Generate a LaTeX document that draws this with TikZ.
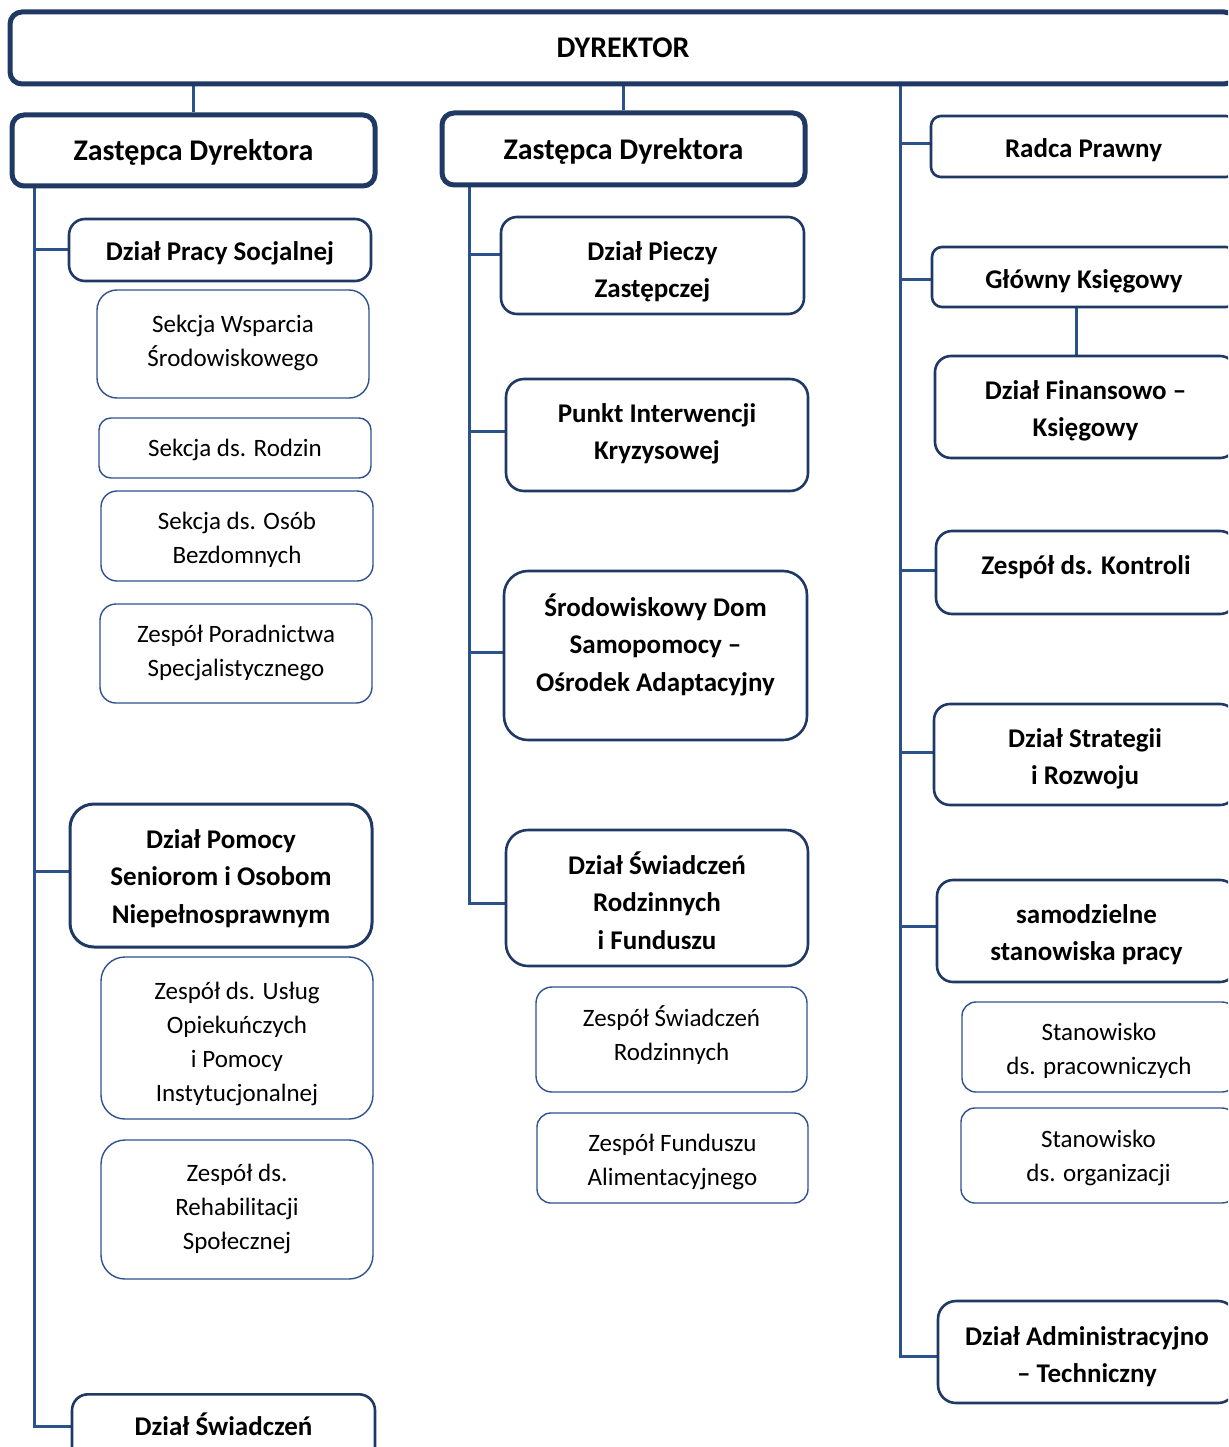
\documentclass[tikz,border=0pt]{standalone}
\usepackage{fontspec}
\setmainfont{Carlito}
\usetikzlibrary{backgrounds,calc}
\definecolor{navy}{RGB}{31,56,100}
\definecolor{conn}{RGB}{44,82,140}
\definecolor{lightb}{RGB}{47,82,143}
\newcommand\T[2]{\raisebox{-#1pt}[\height][\depth]{\begin{tabular}{@{}c@{}}#2\end{tabular}}}
\tikzset{
  base/.style={draw, fill=white, inner sep=0pt, text=black},
  thickbox/.style={base, draw=navy, line width=5pt, rounded corners=12pt,
    font=\bfseries\fontsize{30}{38}\selectfont},
  midbox/.style={base, draw=navy, line width=2.6pt, rounded corners=16pt,
    font=\bfseries\fontsize{27}{37.5}\selectfont},
  lightbox/.style={base, draw=lightb, line width=1.4pt, rounded corners=20pt,
    font=\fontsize{25}{34}\selectfont},
  link/.style={draw=conn, line width=3pt},
}
\begin{document}
\begin{tikzpicture}[x=1pt,y=-1pt]
\useasboundingbox (0,0) rectangle (1228,1447);
\clip (0,0) rectangle (1228,1447);
% top
\node[thickbox, minimum width=1226, minimum height=72] (dyr) at (623,48) {\T{1.5}{DYREKTOR}};
\node[thickbox, minimum width=363, minimum height=71] (z1) at (193.5,150.5) {\T{2}{Zastępca Dyrektora}};
\node[thickbox, minimum width=363, minimum height=72] (z2) at (623.5,149) {\T{2.5}{Zastępca Dyrektora}};
% left column
\node[midbox, minimum width=302, minimum height=62] (dps) at (220,250) {\T{2.5}{Dział Pracy Socjalnej}};
\node[lightbox, minimum width=272, minimum height=108] (sws) at (233,344) {\T{-1.5}{Sekcja Wsparcia\\Środowiskowego}};
\node[lightbox, minimum width=272, minimum height=60, rounded corners=12pt] (sdr) at (235,448) {\T{1.5}{Sekcja ds. Rodzin}};
\node[lightbox, minimum width=272, minimum height=90, rounded corners=16pt] (sdo) at (237,536) {\T{3.5}{Sekcja ds. Osób\\Bezdomnych}};
\node[lightbox, minimum width=272, minimum height=99, rounded corners=16pt] (zps) at (236,653.5) {\T{-1}{Zespół Poradnictwa\\Specjalistycznego}};
\node[midbox, minimum width=302, minimum height=143, rounded corners=24pt, line width=3pt] (dpo) at (221,875.5) {\T{2.5}{Dział Pomocy\\Seniorom i Osobom\\Niepełnosprawnym}};
\node[lightbox, minimum width=272, minimum height=162, rounded corners=24pt] (zuo) at (237,1038) {\T{5.5}{Zespół ds. Usług\\Opiekuńczych\\i Pomocy\\Instytucjonalnej}};
\node[lightbox, minimum width=272, minimum height=139, rounded corners=24pt] (zrs) at (237,1209.5) {\T{-1}{Zespół ds.\\Rehabilitacji\\Społecznej}};
\node[midbox, anchor=north, minimum width=303, text height=41pt, text depth=60pt] (dsw) at (223.5,1393) {Dział Świadczeń};
% middle column
\node[midbox, minimum width=303, minimum height=97] (dpz) at (652.5,265.5) {\T{5.75}{Dział Pieczy\\Zastępczej}};
\node[midbox, minimum width=302, minimum height=112, rounded corners=18pt] (pik) at (657,435) {\T{-1.75}{Punkt Interwencji\\Kryzysowej}};
\node[midbox, minimum width=303, minimum height=169, rounded corners=24pt] (sds) at (655.5,655.5) {\T{-9.5}{Środowiskowy Dom\\Samopomocy –\\Ośrodek Adaptacyjny}};
\node[midbox, minimum width=302, minimum height=136, rounded corners=22pt] (dsr) at (657,898) {\T{6}{Dział Świadczeń\\Rodzinnych\\i Funduszu}};
\node[lightbox, minimum width=271, minimum height=105, rounded corners=16pt] (zsr) at (671.5,1039.5) {\T{-3}{Zespół Świadczeń\\Rodzinnych}};
\node[lightbox, minimum width=271, minimum height=90, rounded corners=14pt] (zfa) at (672.5,1158) {\T{3.5}{Zespół Funduszu\\Alimentacyjnego}};
% right column
\node[midbox, minimum width=305, minimum height=61, rounded corners=10pt] (rp) at (1083.5,146.5) {\T{4}{Radca Prawny}};
\node[midbox, minimum width=304, minimum height=60, rounded corners=10pt] (gk) at (1084,277) {\T{3.5}{Główny Księgowy}};
\node[midbox, minimum width=301, minimum height=102] (fin) at (1085.5,407) {\T{3.25}{Dział Finansowo –\\Księgowy}};
\node[midbox, minimum width=300, minimum height=83] (zk) at (1086,572.5) {\T{-6}{Zespół ds. Kontroli}};
\node[midbox, minimum width=302, minimum height=101] (dsz) at (1085,754.5) {\T{3.75}{Dział Strategii\\i Rozwoju}};
\node[midbox, minimum width=299, minimum height=102] (ssp) at (1086.5,931) {\T{3.25}{samodzielne\\stanowiska pracy}};
\node[lightbox, minimum width=274, minimum height=90, rounded corners=14pt] (stp) at (1099,1047) {\T{3.5}{Stanowisko\\ds. pracowniczych}};
\node[lightbox, minimum width=275, minimum height=95, rounded corners=14pt] (sto) at (1098.5,1155.5) {\T{2}{Stanowisko\\ds. organizacji}};
\node[midbox, minimum width=298, minimum height=102, rounded corners=18pt] (ada) at (1087,1352) {\T{4.25}{Dział Administracyjno\\– Techniczny}};
% rails
\coordinate (railL) at (34,0);
\coordinate (railM) at (469,0);
\coordinate (railR) at (900,0);
\coordinate (gkx) at (1076,0);
\begin{scope}[on background layer]
\draw[link] (z1.north) -- (z1.north |- dyr.south);
\draw[link] (z2.north) -- (z2.north |- dyr.south);
% left
\coordinate (dswc) at ($(dsw.north west)!0.32!(dsw.south west)$);
\draw[link] (z1.south -| railL) |- (dswc);
\draw[link] (railL |- dps.west) -- (dps.west);
\draw[link] ($(railL |- dpo.west)+(0,-4)$) -- ($(dpo.west)+(0,-4)$);
% middle
\coordinate (dpzc) at ($(dpz.north west)!0.39!(dpz.south west)$);
\coordinate (pikc) at ($(pik.west)+(0,-4)$);
\coordinate (sdsc) at ($(sds.west)+(0,-3)$);
\coordinate (dsrc) at ($(dsr.west)+(0,5)$);
\draw[link] (z2.south -| railM) |- (dsrc);
\draw[link] (railM |- dpzc) -- (dpzc);
\draw[link] (railM |- pikc) -- (pikc);
\draw[link] (railM |- sdsc) -- (sdsc);
% right
\coordinate (rpc) at ($(rp.west)+(0,-3)$);
\coordinate (gkc) at ($(gk.west)+(0,2)$);
\coordinate (zkc) at ($(zk.west)+(0,-2)$);
\coordinate (dszc) at ($(dsz.west)+(0,-2)$);
\coordinate (sspc) at ($(ssp.west)+(0,-5)$);
\coordinate (adac) at ($(ada.west)+(0,4)$);
\draw[link] (dyr.south -| railR) |- (adac);
\draw[link] (railR |- rpc) -- (rpc);
\draw[link] (railR |- gkc) -- (gkc);
\draw[link] (railR |- zkc) -- (zkc);
\draw[link] (railR |- dszc) -- (dszc);
\draw[link] (railR |- sspc) -- (sspc);
\draw[link] (gk.south -| gkx) -- (fin.north -| gkx);
\end{scope}
\end{tikzpicture}
\end{document}
